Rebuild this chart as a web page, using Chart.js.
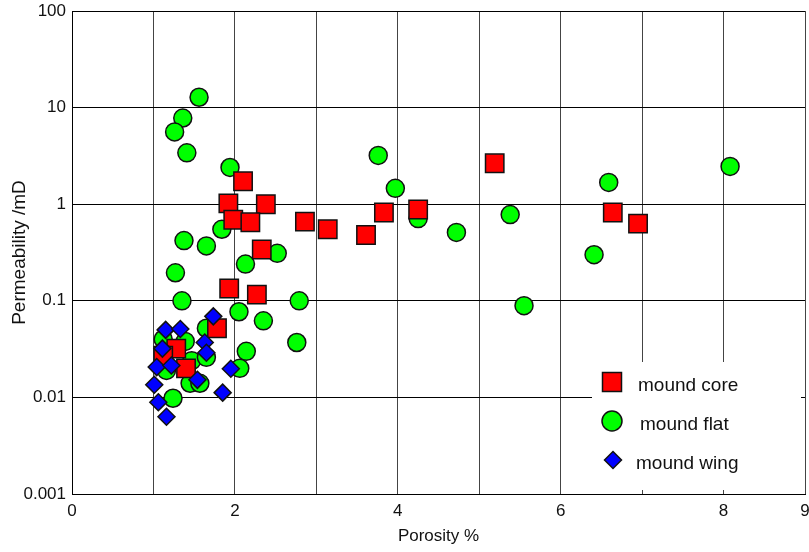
<!DOCTYPE html>
<html>
<head>
<meta charset="utf-8">
<script src="https://cdn.jsdelivr.net/npm/chart.js@4/dist/chart.umd.min.js"></script>
<style>
html,body{margin:0;padding:0;background:#fff;}
#wrap{width:809px;height:552px;}
</style>
</head>
<body>
<div id="wrap"><canvas id="c" width="809" height="552"></canvas></div>
<script>
// ---- data ----
const seriesNames = ["mound core", "mound flat", "mound wing"];

const coreX = [2.10, 1.92, 2.38, 1.98, 2.19, 2.33, 2.86, 3.14, 3.61, 3.83, 4.25, 5.19, 6.64, 6.95, 1.93, 2.27, 1.78, 1.28, 1.12, 1.40];
const coreY = [1.73, 1.02, 1.00, 0.69, 0.65, 0.34, 0.66, 0.55, 0.48, 0.82, 0.88, 2.65, 0.82, 0.63, 0.134, 0.116, 0.052, 0.032, 0.027, 0.020];

const flatX = [1.56, 1.36, 1.26, 1.41, 1.94, 3.76, 3.97, 4.25, 4.72, 5.38, 5.55, 6.41, 6.59, 8.08, 1.84, 1.375, 1.65, 1.27, 2.13, 2.52, 1.35, 2.79, 1.12, 1.16, 1.24, 1.39, 1.47, 1.45, 1.57, 1.65, 1.65, 2.05, 2.06, 2.14, 2.35, 2.76];
const flatY = [12.8, 7.8, 5.6, 3.4, 2.4, 3.2, 1.46, 0.71, 0.51, 0.78, 0.089, 0.30, 1.68, 2.46, 0.55, 0.42, 0.37, 0.195, 0.24, 0.31, 0.10, 0.10, 0.040, 0.019, 0.0098, 0.038, 0.024, 0.014, 0.014, 0.052, 0.026, 0.077, 0.020, 0.030, 0.062, 0.037];

const wingX = [1.735, 1.15, 1.33, 1.63, 1.65, 1.11, 1.04, 1.22, 1.54, 1.01, 1.95, 1.85, 1.06, 1.16];
const wingY = [0.069, 0.050, 0.051, 0.037, 0.029, 0.032, 0.0206, 0.0214, 0.0152, 0.0135, 0.0198, 0.0112, 0.0089, 0.0063];

const xTickLabels = ["0", "2", "4", "6", "8", "9"];
const yTickValues = [0.001, 0.01, 0.1, 1, 10, 100];
const yTickLabels = ["0.001", "0.01", "0.1", "1", "10", "100"];

const xTitle = "Porosity %";
const yTitle = "Permeability /mD";

// ---- build ----
function pts(xs, ys){ return xs.map((x,i)=>({x:x, y:ys[i]})); }

const FONT = "'Liberation Sans', Arial, sans-serif";

const styles = [
  {bg:'#ff0000', style:'rect', r:13},
  {bg:'#00ff00', style:'circle', r:9},
  {bg:'#0000ff', style:'rectRot', r:8.5}
];

const legendPlugin = {
  id:'boxLegend',
  beforeDatasetsDraw(chart){
    const ctx = chart.ctx;
    ctx.save();
    ctx.fillStyle = '#fff';
    ctx.fillRect(592, 362, 209, 128);
    const items = [
      {y:382, tx:638},
      {y:421, tx:640},
      {y:460, tx:636}
    ];
    items.forEach((it, i) => {
      const s = styles[i];
      const cx = 612;
      ctx.beginPath();
      if (s.style === 'rect') {
        ctx.rect(cx-9.5, it.y-9.5, 19, 19);
      } else if (s.style === 'circle') {
        ctx.arc(cx, it.y, 10, 0, Math.PI*2);
      } else {
        ctx.moveTo(cx+1-8.5, it.y); ctx.lineTo(cx+1, it.y-8.5); ctx.lineTo(cx+1+8.5, it.y); ctx.lineTo(cx+1, it.y+8.5); ctx.closePath();
      }
      ctx.fillStyle = s.bg; ctx.fill();
      ctx.lineWidth = 1.5; ctx.strokeStyle = '#111'; ctx.stroke();
      ctx.fillStyle = '#111';
      ctx.font = "19px " + FONT;
      ctx.textBaseline = 'middle';
      ctx.textAlign = 'left';
      ctx.fillText(seriesNames[i], it.tx, it.y + 4);
    });
    ctx.restore();
  }
};

const data = {
  datasets: [
    {label: seriesNames[0], data: pts(coreX, coreY), order: 1},
    {label: seriesNames[1], data: pts(flatX, flatY), order: 2},
    {label: seriesNames[2], data: pts(wingX, wingY), order: 0}
  ].map((d, i) => Object.assign(d, {
    backgroundColor: styles[i].bg,
    borderColor: '#111',
    borderWidth: 1.5,
    pointStyle: styles[i].style,
    pointRadius: styles[i].r,
    pointHoverRadius: styles[i].r
  }))
};

new Chart(document.getElementById('c'), {
  type: 'scatter',
  data: data,
  plugins: [legendPlugin],
  options: {
    responsive: false,
    animation: false,
    layout: {autoPadding: false, padding: {left: 0, right: 4, top: 11, bottom: 0}},
    plugins: {legend: {display: false}, tooltip: {enabled: false}},
    scales: {
      x: {
        type: 'linear', min: 0, max: 9,
        afterFit(s){ s.height = 58; s.paddingLeft = 0; s.paddingRight = 0; },
        grid: {color: '#444', lineWidth: 1, drawTicks: false},
        border: {color: '#000', width: 1},
        ticks: {
          stepSize: 1, padding: 7, color: '#111', maxRotation: 0, autoSkip: false,
          font: {size: 17, family: FONT},
          callback(v){ const s = String(v); return xTickLabels.includes(s) ? s : ''; }
        },
        title: {display: true, text: xTitle, color: '#111', font: {size: 17, family: FONT}, padding: 5}
      },
      y: {
        type: 'logarithmic', min: 0.001, max: 100,
        afterFit(s){ s.width = 72; s.paddingTop = 0; s.paddingBottom = 0; },
        afterBuildTicks(s){ s.ticks = yTickValues.map(v => ({value: v})); },
        grid: {color: '#000', lineWidth: 1, drawTicks: false},
        border: {color: '#000', width: 1},
        ticks: {
          padding: 6, color: '#111',
          font: {size: 17, family: FONT},
          callback(v){ const i = yTickValues.indexOf(v); return i >= 0 ? yTickLabels[i] : ''; }
        },
        title: {display: true, text: yTitle, color: '#111', font: {size: 19, family: FONT}, padding: 8}
      }
    }
  }
});
</script>
</body>
</html>
